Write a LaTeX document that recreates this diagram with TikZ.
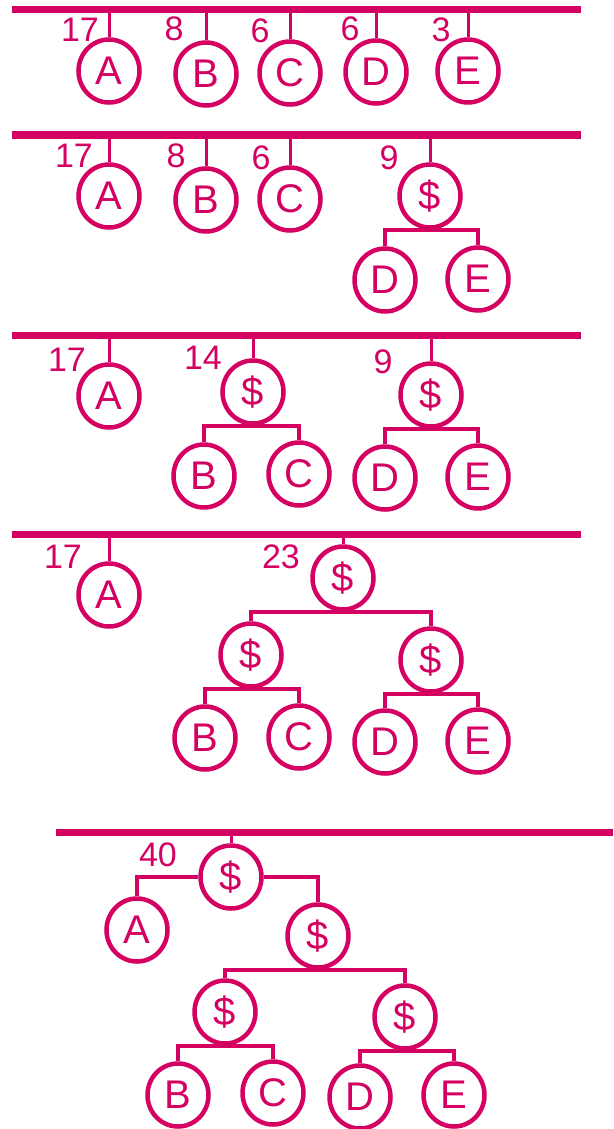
\documentclass[tikz,border=0pt]{standalone}
\usepackage{fontspec}
\setmainfont{Liberation Sans}
\usepackage{tikz}
\usetikzlibrary{shapes.geometric, positioning, calc}

\definecolor{inkpink}{RGB}{212,0,98}

\begin{document}
\begin{tikzpicture}[
    x=1pt, y=-1pt,
    leaf/.style={ellipse, draw=inkpink, line width=4.5pt, minimum width=61pt, minimum height=63pt, inner sep=0pt, text=inkpink, font=\fontsize{40}{44}\selectfont},
    num/.style={text=inkpink, inner sep=0pt, font=\fontsize{34}{38}\selectfont},
    bar/.style={draw=inkpink, line width=7pt},
    stem/.style={draw=inkpink, line width=3pt},
    link/.style={draw=inkpink, line width=3.5pt}
]
\useasboundingbox (0,0) rectangle (613,1129);

% step 1: five single trees
\coordinate (bar1l) at (12,10);
\coordinate (bar1r) at (581,10);
\node[leaf] (a1) at (109,71) {A};
\node[leaf] (b1) at (206,74) {B};
\node[leaf] (c1) at (290,73) {C};
\node[leaf] (d1) at (376,72) {D};
\node[leaf] (e1) at (468,71) {E};
\node[num] (n1a) at (80,30) {17};
\node[num] (n1b) at (174,29) {8};
\node[num] (n1c) at (260,31) {6};
\node[num] (n1d) at (350,29) {6};
\node[num] (n1e) at (441,30) {3};

\draw[bar] (bar1l) -- (bar1r);
\foreach \t in {a1,b1,c1,d1,e1}
    \draw[stem] (\t.north) -- (\t.north |- bar1l);

% step 2: D and E joined
\coordinate (bar2l) at (12,135);
\coordinate (bar2r) at (581,135);
\node[leaf] (a2) at (109,196) {A};
\node[leaf] (b2) at (206,200) {B};
\node[leaf] (c2) at (290,199) {C};
\node[leaf] (s2) at (430,196) {\$};
\node[leaf] (d2) at (385,280) {D};
\node[leaf] (e2) at (478,279) {E};
\node[num] (n2a) at (74,156) {17};
\node[num] (n2b) at (176,156) {8};
\node[num] (n2c) at (261,158) {6};
\node[num] (n2s) at (389,158) {9};

\draw[bar] (bar2l) -- (bar2r);
\foreach \t in {a2,b2,c2,s2}
    \draw[stem] (\t.north) -- (\t.north |- bar2l);
\draw[link] (d2.north) |- (s2.south) -| (e2.north);

% step 3: B and C joined
\coordinate (bar3l) at (12,335);
\coordinate (bar3r) at (581,335);
\node[leaf] (a3) at (109,396) {A};
\node[leaf] (s3) at (253,392) {\$};
\node[leaf] (t3) at (431,395) {\$};
\node[leaf] (b3) at (204,476) {B};
\node[leaf] (c3) at (299,474) {C};
\node[leaf] (d3) at (385,478) {D};
\node[leaf] (e3) at (478,477) {E};
\node[num] (n3a) at (67,360) {17};
\node[num] (n3s) at (203,358) {14};
\node[num] (n3t) at (383,362) {9};

\draw[bar] (bar3l) -- (bar3r);
\foreach \t in {a3,s3,t3}
    \draw[stem] (\t.north) -- (\t.north |- bar3l);
\draw[link] (b3.north) |- (s3.south) -| (c3.north);
\draw[link] (d3.north) |- (t3.south) -| (e3.north);

% step 4: the two pairs joined
\coordinate (bar4l) at (12,534);
\coordinate (bar4r) at (581,534);
\node[leaf] (a4) at (109,595) {A};
\node[leaf] (r4) at (343,578) {\$};
\node[leaf] (s4) at (251,655) {\$};
\node[leaf] (t4) at (431,660) {\$};
\node[leaf] (b4) at (205,738) {B};
\node[leaf] (c4) at (299,737) {C};
\node[leaf] (d4) at (385,742) {D};
\node[leaf] (e4) at (478,741) {E};
\node[num] (n4a) at (63,557) {17};
\node[num] (n4r) at (281,557) {23};

\draw[bar] (bar4l) -- (bar4r);
\foreach \t in {a4,r4}
    \draw[stem] (\t.north) -- (\t.north |- bar4l);
\draw[link] (s4.north) |- (r4.south) -| (t4.north);
\draw[link] (b4.north) |- (s4.south) -| (c4.north);
\draw[link] (d4.north) |- (t4.south) -| (e4.north);

% step 5: one tree
\coordinate (bar5l) at (56,832);
\coordinate (bar5r) at (613,832);
\node[leaf] (r5) at (231,877) {\$};
\node[leaf] (a5) at (137,930) {A};
\node[leaf] (s5) at (318,936) {\$};
\node[leaf] (t5) at (225,1012) {\$};
\node[leaf] (u5) at (405,1017) {\$};
\node[leaf] (b5) at (178,1095) {B};
\node[leaf] (c5) at (273,1093) {C};
\node[leaf] (d5) at (360,1097) {D};
\node[leaf] (e5) at (454,1095) {E};
\node[num] (n5r) at (158,855) {40};

\draw[bar] (bar5l) -- (bar5r);
\draw[stem] (r5.north) -- (r5.north |- bar5l);
\draw[link] (r5.west) -| (a5.north);
\draw[link] (r5.east) -| (s5.north);
\draw[link] (t5.north) |- (s5.south) -| (u5.north);
\draw[link] (b5.north) |- (t5.south) -| (c5.north);
\draw[link] (d5.north) |- (u5.south) -| (e5.north);

\end{tikzpicture}
\end{document}
